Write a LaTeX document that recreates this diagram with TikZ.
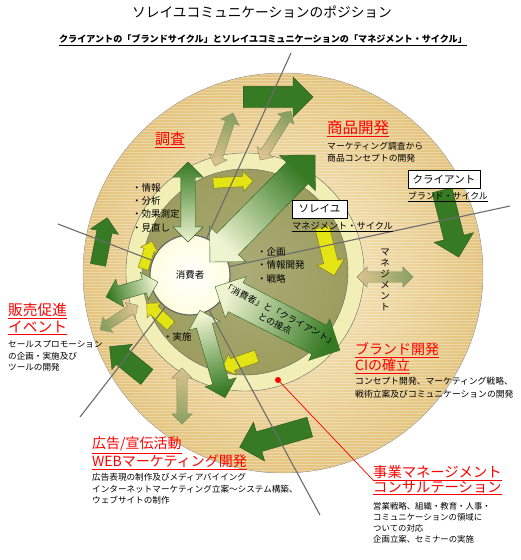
\documentclass[tikz,border=0pt]{standalone}
\usepackage{fontspec}
\setmainfont{Noto Sans CJK JP}
\usetikzlibrary{shapes.arrows}
\definecolor{tanlite}{RGB}{248,237,202}
\definecolor{tandark}{RGB}{228,196,126}
\definecolor{ringyel}{RGB}{242,239,182}
\definecolor{olivefill}{RGB}{156,157,94}
\definecolor{consfill}{RGB}{255,253,224}
\definecolor{grnd}{RGB}{54,122,36}
\definecolor{grnl}{RGB}{238,243,208}
\definecolor{yelfill}{RGB}{228,228,20}
\definecolor{yeldraw}{RGB}{120,120,30}
\definecolor{tanarr}{RGB}{218,192,138}
\definecolor{tanarrg}{RGB}{128,156,92}
\definecolor{raygray}{RGB}{108,108,108}
\newcommand{\ul}[1]{\underline{#1}}

\begin{document}
\begin{tikzpicture}[x=1pt, y=-1pt,
  brand/.style={single arrow, draw=grnd!70!black, fill=grnd, anchor=tail, inner xsep=0pt},
  mgmt/.style={single arrow, draw=yeldraw, fill=yelfill, anchor=tail, inner xsep=0pt},
  tie/.style={double arrow, draw=tanarrg!60!gray, inner xsep=0pt,
              left color=tanarr, right color=tanarrg, fill opacity=0.9},
  link/.style={double arrow, draw=grnd!80!black, inner xsep=0pt,
               left color=grnl, right color=grnd},
  ray/.style={draw=raygray, line width=1.1pt},
  hd/.style={text=red, align=left, anchor=north west, inner sep=0pt},
  desc/.style={font=\fontsize{8.7}{11.7}\selectfont, align=left, anchor=north west, inner sep=0pt},
  pts/.style={font=\fontsize{9.5}{13.4}\selectfont, align=left, anchor=north west, inner sep=0pt},
  tag/.style={draw, line width=0.8pt, fill=white, font=\fontsize{10.5}{12}\selectfont,
              inner sep=0pt, minimum height=18pt},
]
\useasboundingbox (0,0) rectangle (520,560);
\fill[white] (0,0) rectangle (520,560);

% brand ring (outer disc) with stripes
\fill[inner color=tanlite, outer color=tandark] (283,273) circle[radius=200pt];
\begin{scope}
  \clip (283,273) circle[radius=200pt];
  \foreach \k in {0,...,134}
    \draw[white, opacity=0.3, line width=0.9pt] (80,74+3*\k) -- (490,74+3*\k);
\end{scope}
\draw[gray!60] (283,273) circle[radius=200pt];

% management rings
\draw[gray!80!black, fill=ringyel] (245,272) circle[radius=119pt];
\draw[gray!80!black, inner color=olivefill!85!white, outer color=olivefill] (245,272) circle[radius=103pt];
\node[circle, draw=gray!80!black, line width=1.2pt, inner color=white, outer color=consfill,
      minimum size=80pt, font=\fontsize{9.5}{11}\selectfont] (cons) at (190,275) {消費者};

% brand cycle arrows
\node[brand, rotate=0,   minimum height=70pt, inner ysep=10.5pt, single arrow head extend=9.5pt] (brA) at (243,97) {};
\node[brand, rotate=-76, minimum height=69pt, inner ysep=10pt,   single arrow head extend=10pt]  (brB) at (442,190) {};
\node[brand, rotate=196, minimum height=73pt, inner ysep=10pt,   single arrow head extend=10pt]  (brC) at (310,427) {};
\node[brand, rotate=141, minimum height=48pt, inner ysep=9.5pt,  single arrow head extend=6.5pt] (brD) at (147,377) {};
\node[brand, rotate=79,  minimum height=48pt, inner ysep=7.5pt,  single arrow head extend=6.5pt] (brE) at (98,265) {};

% management cycle arrows
\node[mgmt, rotate=3,   minimum height=40pt, inner ysep=5pt,   single arrow head extend=5pt]   (mgA) at (213,183) {};
\node[mgmt, rotate=-76, minimum height=50pt, inner ysep=7pt,   single arrow head extend=7pt]   (mgB) at (322,227) {};
\node[mgmt, rotate=199, minimum height=37pt, inner ysep=6pt,   single arrow head extend=5pt]   (mgC) at (257,356) {};
\node[mgmt, rotate=137, minimum height=33pt, inner ysep=5.5pt, single arrow head extend=4.5pt] (mgD) at (171,326) {};
\node[mgmt, rotate=72,  minimum height=29pt, inner ysep=5pt,   single arrow head extend=4pt]   (mgE) at (143,269) {};

% ties between the two cycles
\node[tie, rotate=71, shading angle=161, minimum height=56pt, inner ysep=4.5pt, double arrow head extend=5pt] (tiF) at (224,139.5) {};
\node[tie, rotate=58, shading angle=148, minimum height=58pt, inner ysep=4.5pt, double arrow head extend=5pt] (tiG) at (275.5,135.5) {};
\node[tie, rotate=0,  shading angle=90,  minimum height=56pt, inner ysep=5pt,   double arrow head extend=5pt] (tiH) at (385,277) {};
\node[tie, rotate=-90, shading angle=0,  minimum height=56pt, inner ysep=5pt,   double arrow head extend=5pt] (tiI) at (182,396) {};
\node[tie, left color=tanarrg, right color=tanarr, rotate=33, shading angle=123,
      minimum height=45pt, inner ysep=4.5pt, double arrow head extend=4.5pt] (tiJ) at (119,317.5) {};

% links to the consumer
\node[link, rotate=90,   shading angle=180,   minimum height=80pt,  inner ysep=7pt,  double arrow head extend=8pt]  (lkK) at (188,202) {};
\node[link, rotate=45.5, shading angle=135.5, minimum height=150pt, inner ysep=15pt, double arrow head extend=10pt] (lkL) at (262.5,208.5) {};
\node[link, left color=grnd, right color=grnl, rotate=16, shading angle=106,
      minimum height=54pt, inner ysep=7pt, double arrow head extend=7pt] (lkM) at (132,289.5) {};
\node[link, rotate=-74,  shading angle=16,    minimum height=91pt,  inner ysep=8pt,  double arrow head extend=8pt]  (lkN) at (212.5,354) {};
\node[link, rotate=-27,  shading angle=63,    minimum height=140pt, inner ysep=16pt, double arrow head extend=7pt]  (lkO) at (277.5,318.5) {};
\node[rotate=-27, align=center, inner sep=0pt, font=\fontsize{9}{11}\selectfont] (ctext) at (lkO.center)
     {「消費者」と「クライアント」\\との接点};

% rays
\coordinate (ray1) at (291,53);
\coordinate (ray2) at (58,224);
\coordinate (ray3) at (510,206);
\coordinate (ray4) at (80,417);
\coordinate (ray5) at (320,515);
\foreach \r in {ray1,ray2,ray3,ray4,ray5}
  \draw[ray] (\r) -- (cons);

% titles
\node[font=\fontsize{13.7}{16}\selectfont] (title) at (262,12) {ソレイユコミュニケーションのポジション};
\node[font=\bfseries\fontsize{9.1}{11}\selectfont] (sub) at (263,40)
     {\ul{クライアントの「ブランドサイクル」とソレイユコミュニケーションの「マネジメント・サイクル」}};

% labels inside
\node[pts] (pts1) at (132,183) {・情報\\・分析\\・効果測定\\・見直し};
\node[pts, font=\fontsize{9.5}{13.5}\selectfont] (pts2) at (257,247) {・企画\\・情報開発\\・戦略};
\node[pts] (pts3) at (163,332) {・実施};
\node[tag, minimum width=72pt] (client) at (444,179) {クライアント};
\node[anchor=west, inner sep=0pt, font=\fontsize{8.9}{11}\selectfont] (bcyc) at (408,197) {\ul{ブランド・サイクル}};
\node[tag, minimum width=55pt] (soleil) at (319.5,209) {ソレイユ};
\node[anchor=west, inner sep=0pt, font=\fontsize{9.2}{11}\selectfont] (mcyc) at (292,227) {\ul{マネジメント・サイクル}};
\node[align=center, inner sep=0pt, font=\fontsize{9.5}{11}\selectfont] (mgv) at (385,280) {マ\\ネ\\ジ\\メ\\ン\\ト};

% headings and descriptions
\node[hd, font=\fontsize{15}{18}\selectfont] (research) at (155,132) {\ul{調査}};
\node[hd, font=\fontsize{15.5}{18}\selectfont] (product) at (327,120) {\ul{商品開発}};
\node[desc, font=\fontsize{8.8}{12}\selectfont] (productd) at (327,142) {マーケティング調査から\\商品コンセプトの開発};
\node[hd, font=\fontsize{14}{16.5}\selectfont] (brand) at (355,342) {\ul{ブランド開発}\\\ul{CIの確立}};
\node[desc, font=\fontsize{8.8}{13}\selectfont] (brandd) at (355,377) {コンセプト開発、マーケティング戦略、\\戦術立案及びコミュニケーションの開発};
\node[hd, font=\fontsize{14.7}{17}\selectfont] (promo) at (8,303) {\ul{販売促進}\\\ul{イベント}};
\node[desc, font=\fontsize{8.6}{11.7}\selectfont] (promod) at (8,340) {セールスプロモーション\\の企画・実施及び\\ツールの開発};
\node[hd, font=\fontsize{14}{18}\selectfont] (adv) at (92,437) {\ul{広告/宣伝活動}\\\ul{WEBマーケティング開発}};
\node[desc, font=\fontsize{8.6}{11.5}\selectfont] (advd) at (92,473) {広告表現の制作及びメディアバイイング\\インターネットマーケティング立案～システム構築、\\ウェブサイトの制作};
\node[hd, font=\fontsize{14.3}{15}\selectfont] (biz) at (373,465) {\ul{事業マネージメント}\\\ul{コンサルテーション}};
\node[desc, font=\fontsize{8.4}{11}\selectfont] (bizd) at (373,502) {営業戦略、組織・教育・人事・\\コミュニケーションの領域に\\ついての対応\\企画立案、セミナーの実施};

% pointer
\node[circle, fill=red, inner sep=0pt, minimum size=6pt] (pin) at (278,380) {};
\coordinate (pinend) at (373,480);
\draw[red, line width=0.7pt] (pin.center) -- (pinend);
\end{tikzpicture}
\end{document}
